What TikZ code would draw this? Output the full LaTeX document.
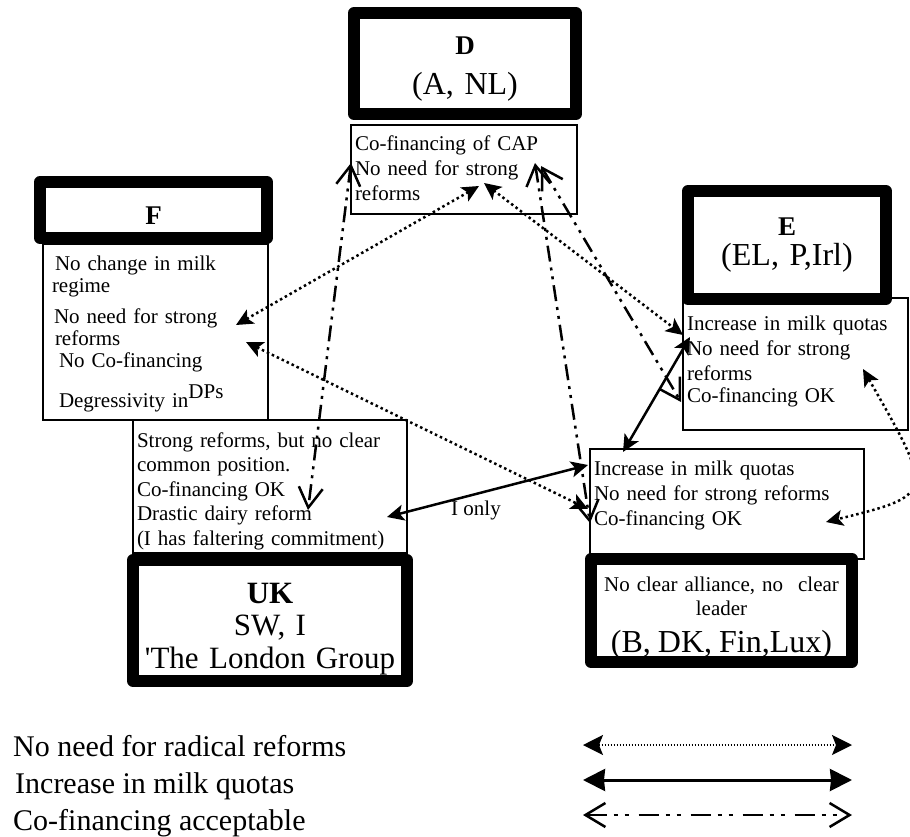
\documentclass[tikz,border=0pt]{standalone}
\usepackage{fontspec}
\setmainfont{Liberation Serif}
\usetikzlibrary{arrows.meta}

\newcommand{\txtsize}{\fontsize{21}{25}\selectfont}
\newcommand{\hdsize}{\fontsize{32}{40}\selectfont}
\newcommand{\keysize}{\fontsize{30}{36}\selectfont}
\frenchspacing

\tikzset{
  party/.style={draw, line width=12pt, line join=round, inner sep=0pt, outer sep=0pt,
    anchor=north west, align=center, font=\hdsize},
  stance/.style={draw, line width=2.5pt, inner ysep=0pt, inner xsep=4pt, outer sep=0pt,
    anchor=north west, align=left, font=\txtsize},
  tipF/.tip={Stealth[length=17pt,width=16pt,inset=4pt]},
  tipO/.tip={Straight Barb[length=20pt,width=24pt]},
  nonradical/.style={line width=2.5pt, dash pattern=on 2.5pt off 3pt, tipF-tipF},
  quota/.style={line width=2.5pt, tipF-tipF},
  cofin/.style={line width=2.5pt, dash pattern=on 16pt off 6pt on 3pt off 6pt on 3pt off 6pt, tipO-tipO},
  keytext/.style={anchor=base west, inner sep=0pt, font=\keysize}
}

\begin{document}
\begin{tikzpicture}[x=1pt, y=-1pt]
  \useasboundingbox (0,0) rectangle (910,837);

  \node[stance, text width=218pt, text height=26pt, text depth=63pt] (dTxt) at (351,125)
    {Co-financing of CAP\\ No need for strong\\ reforms};
  \node[stance, inner xsep=9pt, text width=207pt, text height=26pt, text depth=150pt,
    font=\fontsize{21}{22}\selectfont] (fTxt) at (43,244)
    {\hspace*{3pt}No change in milk\\ regime\\[9pt] \hspace*{2pt}No need for strong\\
     \hspace*{3pt}reforms\\ \hspace*{7pt}No Co-financing\\[12pt]
     \hspace*{7pt}Degressivity in\raisebox{9pt}{DPs}};
  \node[stance, text width=217pt, text height=32pt, text depth=100pt] (eTxt) at (683,298)
    {Increase in milk quotas\\ No need for strong\\ reforms\\[-3pt] Co-financing OK};
  \node[stance, text width=266pt, text height=27pt, text depth=106pt,
    font=\fontsize{21}{24.5}\selectfont] (ukTxt) at (133,420)
    {Strong reforms, but no clear\\ common position.\\ Co-financing OK\\
     Drastic dairy reform\\ (I has faltering commitment)};
  \node[stance, text width=266pt, text height=26pt, text depth=84pt] (midTxt) at (590,449)
    {Increase in milk quotas\\ No need for strong reforms\\ Co-financing OK};

  \node[party, text width=222pt, text height=42pt, text depth=59pt] (dHead) at (354,13)
    {{\fontsize{27}{40}\selectfont\bfseries D}\\ (A, NL)};
  \node[party, text width=227pt, text height=43pt, text depth=13pt] (fHead) at (40,182)
    {\fontsize{27}{40}\selectfont\bfseries F};
  \node[party, text width=198pt, text height=44pt, text depth=64pt] (eHead) at (688,191)
    {{\fontsize{27}{40}\selectfont\bfseries E}\\[-10pt] (EL, P,Irl)};
  \node[party, text width=274pt, text height=43pt, text depth=78pt,
    font=\fontsize{31}{40}\selectfont] (ukHead) at (133,560)
    {{\bfseries UK}\\[-7.5pt] SW, I\\[-7.5pt] \textquotesingle The London Group};
  \node[party, text width=261pt, text height=32pt, text depth=71pt, font=\txtsize] (bHead) at (591,559)
    {No clear alliance, no\hspace{8pt} clear\\[-1pt] leader\\[12pt] {\hdsize (B, DK, Fin,Lux)}};

  \coordinate (dToF) at (479,186);  \coordinate (fToD) at (236,325);
  \coordinate (dToE) at (484,183);  \coordinate (eToD) at (683,335);
  \coordinate (fToM) at (246,342);  \coordinate (mToF) at (588,509);
  \coordinate (eToM) at (863,369);  \coordinate (mToE) at (826,522);
  \coordinate (dCoU) at (351,163);  \coordinate (uCoD) at (308,510);
  \coordinate (dCoM) at (535,163);  \coordinate (mCoD) at (590,523);
  \coordinate (dCoE) at (541,166);  \coordinate (eCoD) at (681,402);
  \coordinate (eQuM) at (690,337);  \coordinate (mQuE) at (623,452);
  \coordinate (uQuM) at (387,517);  \coordinate (mQuU) at (588,465);

  \draw[nonradical] (dToF) -- (fToD);
  \draw[nonradical] (dToE) -- (eToD);
  \draw[nonradical] (fToM) -- (mToF);
  \draw[nonradical] (eToM) .. controls (935,495) .. (mToE);
  \draw[cofin] (dCoU) -- (uCoD);
  \draw[cofin] (dCoM) -- (mCoD);
  \draw[cofin] (dCoE) -- (eCoD);
  \draw[quota] (eQuM) -- (mQuE);
  \draw[quota] (uQuM) -- (mQuU);
  \node[font=\txtsize] (iOnly) at (476,510) {I only};

  \node[keytext] (keyNoNeed) at (13,756) {No need for radical reforms};
  \node[keytext] (keyQuota) at (15,793) {Increase in milk quotas};
  \node[keytext] (keyCofin) at (13,830) {Co-financing acceptable};
  \coordinate (kA1) at (583,745); \coordinate (kB1) at (852,745);
  \coordinate (kA2) at (583,780); \coordinate (kB2) at (852,780);
  \coordinate (kA3) at (583,815); \coordinate (kB3) at (852,815);
  \draw[nonradical, line width=1.5pt, dash pattern=on 1.5pt off 1.5pt,
    {Stealth[length=20pt,width=20pt,inset=4pt]}-{Stealth[length=20pt,width=20pt,inset=4pt]}] (kA1) -- (kB1);
  \draw[quota, line width=3pt,
    {Stealth[length=22pt,width=22pt,inset=1pt]}-{Stealth[length=22pt,width=22pt,inset=1pt]}] (kA2) -- (kB2);
  \draw[cofin, dash pattern=on 20pt off 7pt on 4pt off 7pt on 4pt off 10pt] (kA3) -- (kB3);
\end{tikzpicture}
\end{document}
